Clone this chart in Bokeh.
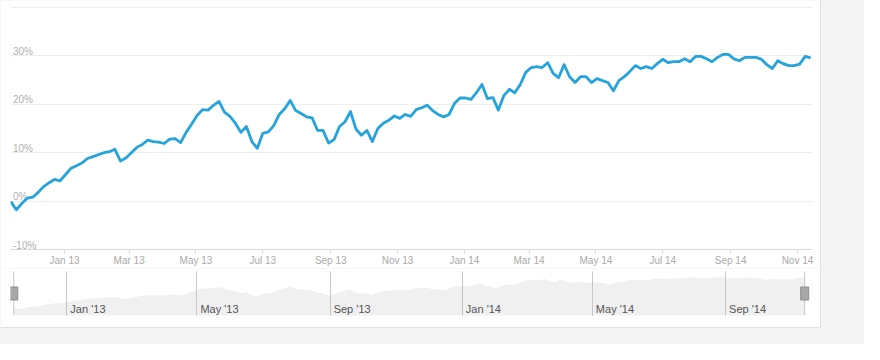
import pandas as pd
from bokeh.plotting import figure
from bokeh.models import FixedTicker, Grid, Range1d, Spacer, Column
from bokeh.core.properties import value
from bokeh.embed import file_html
from bokeh.resources import INLINE

# ---------------- data ----------------
start_date = "2012-11-13"   # series sampled every 5 days
returns_pct = [
    -0.1, -1.8, -0.5, 0.6, 0.8, 1.8, 3.0, 3.8, 4.5, 4.2,
    5.5, 6.8, 7.3, 7.9, 8.8, 9.2, 9.6, 10.0, 10.2, 10.7,
    8.3, 8.9, 10.0, 11.1, 11.7, 12.6, 12.3, 12.2, 11.9, 12.8,
    12.9, 12.1, 14.2, 15.9, 17.7, 18.9, 18.8, 19.8, 20.6, 18.4,
    17.5, 16.1, 14.2, 15.4, 12.3, 10.9, 14.0, 14.3, 15.6, 17.9,
    19.1, 20.8, 18.7, 18.1, 17.4, 17.2, 14.6, 14.6, 12.0, 12.7,
    15.4, 16.4, 18.5, 14.9, 13.6, 14.6, 12.3, 15.0, 16.1, 16.7,
    17.6, 17.1, 17.9, 17.5, 18.9, 19.3, 19.8, 18.7, 17.9, 17.4,
    17.9, 20.2, 21.3, 21.3, 21.0, 22.4, 24.1, 21.2, 21.4, 18.8,
    21.8, 23.1, 22.4, 24.1, 26.6, 27.6, 27.8, 27.6, 28.6, 26.4,
    25.5, 28.2, 25.7, 24.5, 25.7, 25.7, 24.5, 25.3, 24.9, 24.5,
    22.8, 24.9, 25.7, 26.8, 28.0, 27.4, 27.8, 27.4, 28.4, 29.3,
    28.6, 28.8, 28.8, 29.4, 28.8, 29.9, 29.9, 29.4, 28.8, 29.7,
    30.3, 30.3, 29.4, 29.0, 29.7, 29.7, 29.7, 29.3, 28.2, 27.4,
    29.0, 28.4, 28.0, 28.0, 28.3, 29.9, 29.6,
]

main_tick_dates = ["2013-01-01", "2013-03-01", "2013-05-01", "2013-07-01",
                   "2013-09-01", "2013-11-01", "2014-01-01", "2014-03-01",
                   "2014-05-01", "2014-07-01", "2014-09-01", "2014-11-01"]
main_tick_labels = ["Jan 13", "Mar 13", "May 13", "Jul 13", "Sep 13", "Nov 13",
                    "Jan 14", "Mar 14", "May 14", "Jul 14", "Sep 14", "Nov 14"]

nav_tick_dates = ["2013-01-01", "2013-05-01", "2013-09-01",
                  "2014-01-01", "2014-05-01", "2014-09-01"]
nav_tick_labels = ["Jan '13", "May '13", "Sep '13", "Jan '14", "May '14", "Sep '14"]

grid_ticks = [-10, 0, 10, 20, 30, 40]
y_ticks = [-10, 0, 10, 20, 30]
y_tick_labels = ["-10%", "0%", "10%", "20%", "30%"]

# ---------------- helpers ----------------
def ms(d):
    return int(pd.Timestamp(d).value // 10**6)

dates = pd.date_range(start_date, periods=len(returns_pct), freq="5D")
date_ms = [int(t.value // 10**6) for t in dates]

FONT = "Liberation Sans"
LINE_BLUE = "#25a3db"
PX_PER_PCT = 4.84

x0 = ms("2012-11-12 17:00")
x1 = ms("2014-11-14 17:00")

# ---------------- main chart ----------------
p = figure(width=820, height=268, x_range=Range1d(x0, x1),
           y_range=Range1d(-10, 41.45), x_axis_type="datetime",
           y_axis_location=None, output_backend="svg", toolbar_location=None,
           min_border_left=10, min_border_right=8, min_border_top=0,
           min_border_bottom=19, background_fill_color="white",
           border_fill_color="white", outline_line_color=None,
           styles={"box-shadow": "1px 0 0 0 #e2e2e2"})
p.xgrid.grid_line_color = None
p.ygrid.grid_line_color = None
p.add_layout(Grid(dimension=1, ticker=FixedTicker(ticks=grid_ticks),
                  grid_line_color="#eeeeee"))

xa = p.xaxis[0]
xa.ticker = FixedTicker(ticks=[ms(d) for d in main_tick_dates])
xa.major_label_overrides = {ms(d): lab for d, lab in zip(main_tick_dates, main_tick_labels)}
xa.axis_line_color = "#d6dbe3"
xa.major_tick_line_color = "#d6dbe3"
xa.major_tick_out = 4
xa.major_tick_in = 0
xa.minor_tick_line_color = None
xa.major_label_standoff = 1
xa.major_label_text_font = FONT
xa.major_label_text_font_size = "10px"
xa.major_label_text_color = "#aaaaaa"

# y labels sit just above their grid lines
label_lift = 4.5 / PX_PER_PCT
p.text(x=[x0] * len(y_ticks), y=[t + label_lift for t in y_ticks], text=y_tick_labels,
       x_offset=2.5, text_baseline="alphabetic", text_align="left",
       text_font=value(FONT), text_font_size="10px", text_color="#b0b0b0")

p.line(date_ms, returns_pct, line_color=LINE_BLUE, line_width=2.8,
       line_join="round")

# ---------------- navigator ----------------
ppm = 802.0 / (x1 - x0)
nx0 = x0 - 3 / ppm
nx1 = x1 + 6 / ppm
nav_lo, nav_hi = -8, 36

nav = figure(width=820, height=59, x_range=Range1d(nx0, nx1),
             y_range=Range1d(nav_lo, nav_hi), x_axis_location=None,
             y_axis_location=None, output_backend="svg", toolbar_location=None,
             min_border_left=7, min_border_right=2, min_border_top=3,
             min_border_bottom=12, background_fill_color="white",
             border_fill_color="white", outline_line_color=None,
             styles={"box-shadow": "1px 1px 0 0 #e2e2e2"})
nav.xgrid.grid_line_color = None
nav.ygrid.grid_line_color = None

nav.varea(x=date_ms, y1=nav_lo, y2=returns_pct, fill_color="#f0f0f0")
nav.add_layout(Grid(dimension=0, ticker=FixedTicker(ticks=[ms(d) for d in nav_tick_dates]),
                    grid_line_color="#c6c6c6", level="annotation"))
nav.text(x=[ms(d) for d in nav_tick_dates], y=[nav_lo + 7] * len(nav_tick_dates),
         text=nav_tick_labels, x_offset=3.5, text_baseline="alphabetic",
         text_align="left", text_font=value(FONT), text_font_size="11px",
         text_color="#555555")
nav.segment(x0=[date_ms[0], date_ms[-1]], y0=nav_lo, x1=[date_ms[0], date_ms[-1]],
            y1=nav_hi, line_color="#c6c6c6", line_width=1)
nav.rect(x=[date_ms[0], date_ms[-1]], y=(nav_lo + nav_hi) / 2, width=8, height=13,
         width_units="screen", height_units="screen",
         fill_color="#a8a8a8", line_color="#8e8e8e")

root = Column(children=[p, nav, Spacer(height=17, width=10)], width=864, height=344,
              spacing=0, styles={"background-color": "#f4f4f4"})

open("out.html", "w").write(file_html(root, INLINE))
